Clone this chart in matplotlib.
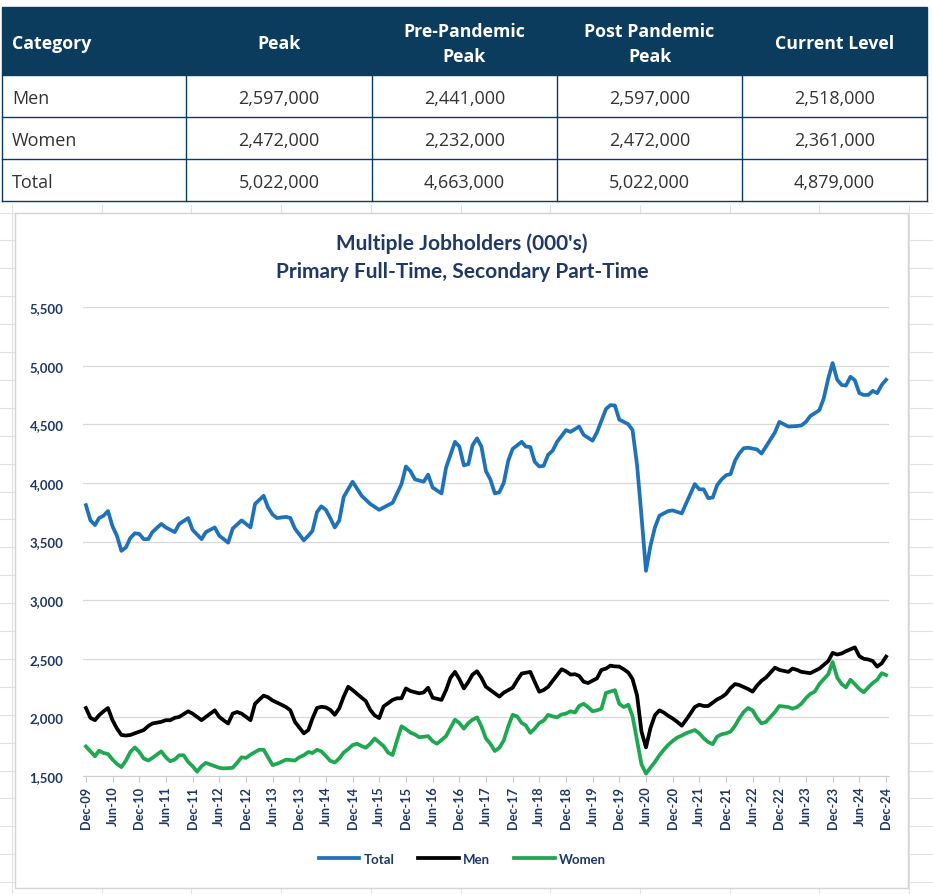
import matplotlib
matplotlib.use("Agg")
import matplotlib.pyplot as plt
import matplotlib.dates as mdates
from matplotlib.patches import Rectangle
from matplotlib.lines import Line2D
from matplotlib.ticker import FuncFormatter, MultipleLocator
import pandas as pd
import numpy as np

W, H = 933, 895

# ---- table data ----
table_cols = ['Category', 'Peak', 'Pre-Pandemic\nPeak', 'Post Pandemic\nPeak', 'Current Level']
table_rows = ['Men', 'Women', 'Total']
peak = [2597000, 2472000, 5022000]
pre_peak = [2441000, 2232000, 4663000]
post_peak = [2597000, 2472000, 5022000]
current = [2518000, 2361000, 4879000]

# ---- chart data (000's); month = months after Dec-2009 ----
total_m = [0, 1, 2, 3, 4, 5, 6, 7, 8, 9, 10, 11, 12, 13, 14, 15, 17, 18, 20, 21,
           23, 24, 26, 27, 29, 30, 32, 33, 35, 37, 38, 40, 41, 42, 43, 45, 46, 47, 49, 50,
           51, 52, 53, 54, 55, 56, 57, 58, 60, 61, 62, 64, 66, 67, 69, 71, 72, 73, 74, 76,
           77, 78, 80, 81, 83, 84, 85, 86, 87, 88, 89, 90, 91, 92, 93, 94, 95, 96, 98, 99,
           100, 101, 102, 103, 104, 105, 106, 107, 108, 109, 111, 112, 114, 115, 117, 118, 119, 120, 122, 123,
           124, 125, 126, 127, 128, 129, 131, 132, 134, 135, 136, 137, 138, 139, 140, 141, 142, 143, 144, 145,
           146, 147, 148, 149, 151, 152, 153, 155, 156, 157, 158, 160, 161, 162, 163, 165, 166, 167, 168, 169,
           170, 171, 172, 173, 174, 175, 176, 177, 178, 179, 180]
total_v = [3810, 3680, 3640, 3700, 3720, 3760, 3630, 3550, 3420, 3450, 3530, 3570, 3565, 3520, 3520, 3580, 3650, 3620, 3580, 3650,
           3700, 3600, 3520, 3580, 3620, 3550, 3490, 3610, 3680, 3620, 3820, 3890, 3790, 3730, 3700, 3710, 3700, 3610, 3510, 3550,
           3590, 3750, 3800, 3770, 3700, 3620, 3680, 3880, 4010, 3950, 3890, 3820, 3770, 3790, 3830, 3990, 4140, 4100, 4030, 4010,
           4070, 3960, 3910, 4130, 4350, 4310, 4150, 4160, 4320, 4380, 4310, 4100, 4030, 3910, 3920, 4000, 4190, 4290, 4350, 4310,
           4305, 4180, 4140, 4145, 4240, 4275, 4350, 4400, 4450, 4435, 4480, 4410, 4360, 4430, 4630, 4663, 4660, 4540, 4500, 4450,
           4150, 3720, 3250, 3460, 3620, 3720, 3760, 3765, 3740, 3820, 3905, 3990, 3945, 3945, 3870, 3875, 3980, 4030, 4065, 4075,
           4190, 4250, 4295, 4300, 4285, 4250, 4310, 4430, 4520, 4500, 4480, 4485, 4490, 4520, 4570, 4620, 4720, 4890, 5022, 4880,
           4835, 4830, 4905, 4875, 4765, 4750, 4750, 4785, 4765, 4835, 4879]

men_m = [0, 1, 2, 3, 4, 5, 6, 7, 8, 9, 10, 11, 13, 14, 15, 17, 18, 19, 20, 21,
         23, 24, 26, 27, 29, 30, 31, 32, 33, 34, 35, 37, 38, 40, 41, 42, 44, 45, 46, 47,
         49, 50, 51, 52, 53, 54, 55, 56, 57, 58, 59, 60, 62, 63, 64, 65, 66, 67, 69, 70,
         71, 72, 73, 75, 76, 77, 78, 80, 81, 82, 83, 84, 85, 86, 87, 88, 89, 90, 92, 93,
         94, 96, 97, 98, 100, 101, 102, 103, 104, 106, 107, 108, 109, 110, 111, 112, 113, 115, 116, 117,
         118, 119, 120, 121, 122, 123, 124, 125, 126, 127, 128, 129, 130, 131, 132, 133, 134, 135, 136, 137,
         138, 139, 140, 141, 142, 143, 144, 145, 146, 147, 149, 150, 151, 152, 153, 154, 155, 156, 158, 159,
         160, 161, 162, 163, 164, 165, 167, 168, 169, 170, 171, 173, 174, 175, 176, 177, 178, 179, 180]
men_v = [2080, 1996, 1976, 2018, 2052, 2080, 1976, 1906, 1850, 1845, 1850, 1864, 1892, 1926, 1948, 1962, 1976, 1976, 1996, 2004,
         2052, 2032, 1976, 2004, 2060, 2004, 1975, 1948, 2032, 2046, 2032, 1976, 2116, 2186, 2172, 2144, 2108, 2088, 2060, 1962,
         1864, 1892, 1990, 2080, 2090, 2085, 2064, 2022, 2078, 2177, 2261, 2233, 2168, 2140, 2064, 2017, 1994, 2093, 2149, 2163,
         2163, 2247, 2225, 2205, 2213, 2253, 2168, 2149, 2233, 2337, 2388, 2326, 2247, 2303, 2365, 2393, 2337, 2261, 2205, 2177,
         2211, 2253, 2317, 2374, 2388, 2303, 2219, 2233, 2261, 2360, 2410, 2393, 2365, 2368, 2354, 2304, 2293, 2332, 2405, 2416,
         2441, 2435, 2433, 2410, 2382, 2326, 2186, 1880, 1744, 1906, 2018, 2060, 2041, 2013, 1990, 1962, 1929, 1976, 2032, 2088,
         2108, 2097, 2097, 2125, 2153, 2172, 2200, 2250, 2284, 2276, 2242, 2220, 2270, 2312, 2340, 2382, 2424, 2405, 2388, 2416,
         2405, 2388, 2382, 2377, 2396, 2416, 2480, 2550, 2536, 2545, 2564, 2597, 2522, 2500, 2494, 2480, 2433, 2461, 2518]

women_m = [0, 1, 2, 3, 4, 5, 6, 7, 8, 9, 10, 11, 12, 13, 14, 15, 17, 18, 19, 20,
           21, 22, 23, 24, 25, 26, 27, 29, 30, 31, 33, 34, 35, 36, 37, 39, 40, 41, 42, 43,
           44, 45, 47, 48, 49, 50, 51, 52, 53, 54, 55, 56, 57, 58, 59, 60, 61, 62, 63, 64,
           65, 67, 68, 69, 70, 71, 72, 73, 74, 75, 76, 77, 78, 79, 81, 82, 83, 84, 85, 86,
           87, 88, 89, 90, 91, 92, 93, 94, 95, 96, 97, 98, 99, 100, 101, 102, 103, 104, 105, 106,
           107, 108, 109, 110, 111, 112, 113, 114, 115, 116, 117, 118, 119, 120, 121, 122, 123, 124, 125, 126,
           127, 128, 129, 130, 131, 132, 133, 134, 135, 137, 138, 139, 140, 141, 142, 143, 144, 145, 146, 147,
           148, 149, 150, 151, 152, 153, 154, 155, 156, 158, 159, 160, 161, 162, 163, 164, 165, 167, 168, 169,
           170, 171, 172, 173, 174, 175, 176, 177, 178, 179, 180]
women_v = [1752, 1710, 1668, 1716, 1696, 1688, 1640, 1604, 1576, 1632, 1705, 1744, 1705, 1649, 1632, 1654, 1710, 1660, 1626, 1640,
           1677, 1677, 1620, 1584, 1537, 1584, 1612, 1584, 1570, 1565, 1570, 1612, 1660, 1654, 1682, 1724, 1724, 1660, 1593, 1604,
           1621, 1640, 1632, 1660, 1677, 1705, 1696, 1724, 1710, 1671, 1629, 1615, 1650, 1700, 1730, 1764, 1775, 1755, 1741, 1775,
           1820, 1755, 1699, 1679, 1803, 1924, 1900, 1870, 1854, 1831, 1835, 1840, 1797, 1775, 1840, 1910, 1980, 1952, 1904, 1952,
           1980, 2000, 1924, 1820, 1775, 1713, 1741, 1803, 1924, 2022, 2008, 1952, 1932, 1868, 1904, 1952, 1972, 2022, 2008, 2000,
           2025, 2032, 2052, 2041, 2097, 2116, 2088, 2052, 2060, 2074, 2209, 2220, 2232, 2116, 2088, 2108, 2010, 1800, 1600, 1520,
           1570, 1620, 1677, 1724, 1766, 1800, 1828, 1845, 1864, 1892, 1864, 1822, 1789, 1772, 1836, 1856, 1864, 1878, 1929, 1990,
           2046, 2080, 2060, 1996, 1948, 1962, 2004, 2046, 2097, 2088, 2074, 2088, 2116, 2164, 2200, 2220, 2284, 2368, 2472, 2340,
           2284, 2256, 2321, 2284, 2242, 2214, 2256, 2293, 2321, 2377, 2361]

months = pd.date_range('2009-12-01', '2024-12-01', freq='MS')

navy = '#1f3864'
hdr_color = '#0b3c5d'
c_total = '#1f72b8'
c_men = '#000000'
c_women = '#1fa751'

fig = plt.figure(figsize=(W / 100, H / 100), dpi=100)

# background: spreadsheet grid, chart panel and table, in pixel coordinates
bg = fig.add_axes([0, 0, 1, 1])
bg.set_xlim(0, W)
bg.set_ylim(H, 0)
bg.axis('off')
for x in np.arange(12, W, 89.7):
    bg.plot([x, x], [0, H], color='#e2e2e2', lw=0.8, zorder=0)
for y in np.arange(213.5, H, 27.9):
    bg.plot([0, W], [y, y], color='#e2e2e2', lw=0.8, zorder=0)
bg.add_patch(Rectangle((0, 0), W, 206, fc='white', ec='none', zorder=1))
bg.add_patch(Rectangle((15, 214), 893, 675, fc='white', ec='#d4d4d4', lw=1, zorder=1))

# table
col_edges = [2, 186, 372, 557, 742, 927]
top, hdr_bot, row_h = 8, 76, 42
bg.add_patch(Rectangle((2, top), 925, hdr_bot - top, fc=hdr_color, ec=hdr_color, zorder=2))
for j, col in enumerate(table_cols):
    if j == 0:
        bg.text(col_edges[0] + 10, (top + hdr_bot) / 2 + 2, col, ha='left', va='center',
                color='white', fontsize=12.8, fontweight='bold', family='Open Sans', zorder=3)
    else:
        bg.text((col_edges[j] + col_edges[j + 1]) / 2, (top + hdr_bot) / 2 + 2, col, ha='center', va='center',
                color='white', fontsize=12.8, fontweight='bold', family='Open Sans', linespacing=1.5, zorder=3)
table_vals = [table_rows, peak, pre_peak, post_peak, current]
for i in range(len(table_rows)):
    yc = hdr_bot + row_h * (i + 0.5) + 2
    for j in range(len(table_cols)):
        v = table_vals[j][i]
        txt = v if j == 0 else f'{v:,}'
        if j == 0:
            bg.text(col_edges[0] + 10, yc, txt, ha='left', va='center', color='#333333',
                    fontsize=13, family='Open Sans', zorder=3)
        else:
            bg.text((col_edges[j] + col_edges[j + 1]) / 2, yc, txt, ha='center', va='center',
                    color='#333333', fontsize=13, family='Open Sans', zorder=3)
    bg.plot([2, 927], [hdr_bot + row_h * (i + 1)] * 2, color=hdr_color, lw=1, zorder=3)
for x in col_edges:
    bg.plot([x, x], [hdr_bot, hdr_bot + row_h * 3], color=hdr_color, lw=1, zorder=3)

# chart
ax = fig.add_axes([83 / W, 1 - 777 / H, (889 - 83) / W, (777 - 308) / H])
ax.set_facecolor('none')
ax.plot(months[total_m], total_v, color=c_total, lw=2.7, label='Total', solid_joinstyle='round')
ax.plot(months[men_m], men_v, color=c_men, lw=2.7, label='Men', solid_joinstyle='round')
ax.plot(months[women_m], women_v, color=c_women, lw=2.7, label='Women', solid_joinstyle='round')

ax.set_ylim(1500, 5500)
ax.set_xlim(months[0] - pd.Timedelta(days=20), months[-1] + pd.Timedelta(days=20))
ax.yaxis.set_major_locator(MultipleLocator(500))
ax.yaxis.set_major_formatter(FuncFormatter(lambda v, p: f'{int(v):,}'))
ax.grid(axis='y', color='#d9d9d9', lw=0.9)
ax.set_axisbelow(True)
ax.xaxis.set_major_locator(mdates.MonthLocator(bymonth=[6, 12]))
ax.xaxis.set_major_formatter(mdates.DateFormatter('%b-%y'))
for s in ['top', 'right', 'left']:
    ax.spines[s].set_visible(False)
ax.spines['bottom'].set_color('#d0d0d0')
ax.tick_params(axis='y', length=0, pad=14, labelsize=9.5, labelcolor=navy)
ax.tick_params(axis='x', length=4, color='#c8c8c8', pad=3, labelsize=9.2, labelcolor=navy,
               labelrotation=90)
for lab in ax.get_xticklabels() + ax.get_yticklabels():
    lab.set_fontweight('bold')
    lab.set_family('Lato')

fig.text(462 / W, 1 - 244 / H, "Multiple Jobholders (000's)", ha='center', va='center',
         color=navy, fontsize=15, fontweight='bold', family='Lato')
fig.text(462 / W, 1 - 272 / H, 'Primary Full-Time, Secondary Part-Time', ha='center', va='center',
         color=navy, fontsize=15, fontweight='bold', family='Lato')

handles = [Line2D([], [], color=c, lw=2.7) for c in (c_total, c_men, c_women)]
leg = fig.legend(handles, ['Total', 'Men', 'Women'], loc='center', bbox_to_anchor=(462 / W, 1 - 860 / H),
                 ncol=3, frameon=False, handlelength=3.1, handletextpad=0.3, columnspacing=1.8,
                 prop={'family': 'Lato', 'weight': 'bold', 'size': 9.5})
for t in leg.get_texts():
    t.set_color(navy)

fig.savefig('out.png', dpi=100)
